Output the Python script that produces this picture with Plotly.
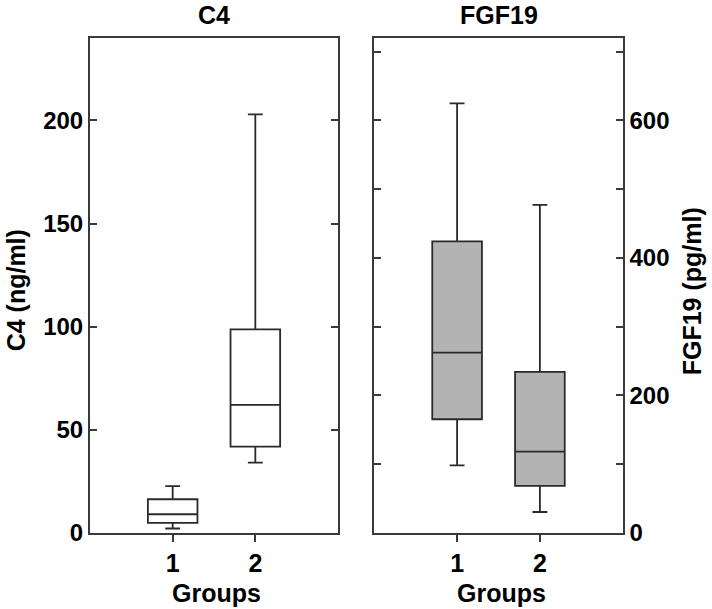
import plotly.graph_objects as go

# The captured picture comes out vertically squeezed by about 0.978 relative to the page,
# so the figure is laid out on a slightly taller page and positions are mapped accordingly.
SY = 0.978
W = 712
H = round(609 / SY)

# ---- data ----
groups = [1, 2]
c4_lower = [2.0, 34.0]
c4_q1 = [4.7, 41.7]
c4_median = [8.9, 62.0]
c4_q3 = [16.2, 98.6]
c4_upper = [22.6, 203.0]

fgf_lower = [98.0, 30.0]
fgf_q1 = [165.0, 68.0]
fgf_median = [262.0, 118.0]
fgf_q3 = [424.0, 234.0]
fgf_upper = [625.0, 477.0]

c4_ticks = [0, 50, 100, 150, 200]
fgf_ticks = [0, 100, 200, 300, 400, 500, 600, 700]
fgf_ticktext = ["0", "", "200", "", "400", "", "600", ""]

FONT = "Liberation Sans, Arial, sans-serif"
LINE = "#3a3a3a"


def px_x(p):
    return p / W


def px_y(p):
    return (H - p / SY) / H


fig = go.Figure()

for i, g in enumerate(groups):
    fig.add_trace(go.Box(
        x=[g], q1=[c4_q1[i]], median=[c4_median[i]], q3=[c4_q3[i]],
        lowerfence=[c4_lower[i]], upperfence=[c4_upper[i]],
        width=0.6, whiskerwidth=0.3, boxpoints=False,
        fillcolor="white", line=dict(color="#2a2a2a", width=1.8),
        xaxis="x", yaxis="y", showlegend=False, hoverinfo="skip"))
    fig.add_trace(go.Box(
        x=[g], q1=[fgf_q1[i]], median=[fgf_median[i]], q3=[fgf_q3[i]],
        lowerfence=[fgf_lower[i]], upperfence=[fgf_upper[i]],
        width=0.6, whiskerwidth=0.3, boxpoints=False,
        fillcolor="#b3b3b3", line=dict(color="#2a2a2a", width=1.8),
        xaxis="x2", yaxis="y2", showlegend=False, hoverinfo="skip"))

ydom = [px_y(532), px_y(38)]
common_x = dict(range=[0, 3], tickvals=groups, ticktext=[str(g) for g in groups],
                ticks="outside", ticklen=7, tickwidth=2, tickcolor=LINE,
                showline=True, linecolor=LINE, linewidth=2, mirror=True,
                showgrid=False, zeroline=False,
                tickfont=dict(family=FONT, size=25, color="black", weight="bold"))

fig.update_layout(
    width=W, height=H,
    margin=dict(l=0, r=0, t=0, b=0),
    paper_bgcolor="white", plot_bgcolor="white",
    font=dict(family=FONT, color="black"),
    showlegend=False,
    xaxis=dict(domain=[px_x(90), px_x(338)], anchor="y", **common_x),
    xaxis2=dict(domain=[px_x(374.3), px_x(622.7)], anchor="y2", **common_x),
    yaxis=dict(domain=ydom, anchor="x", range=[0, 240], tickvals=c4_ticks,
               ticks="inside", ticklen=7, tickwidth=2, tickcolor=LINE,
               showline=True, linecolor=LINE, linewidth=2, mirror="ticks",
               showgrid=False, zeroline=False,
               tickfont=dict(family=FONT, size=24, color="black", weight="bold")),
    yaxis2=dict(domain=ydom, anchor="x2", side="right", range=[0, 720],
                tickvals=fgf_ticks, ticktext=fgf_ticktext,
                ticks="inside", ticklen=7, tickwidth=2, tickcolor=LINE,
                showline=True, linecolor=LINE, linewidth=2, mirror="ticks",
                showgrid=False, zeroline=False,
                tickfont=dict(family=FONT, size=24, color="black", weight="bold")),
)

ann_font = dict(family=FONT, size=25, color="black", weight="bold")
annotations = [
    dict(text="C4", x=px_x(214), y=px_y(15)),
    dict(text="FGF19", x=px_x(499), y=px_y(15)),
    dict(text="Groups", x=px_x(216.5), y=px_y(592)),
    dict(text="Groups", x=px_x(501.5), y=px_y(592)),
    dict(text="C4 (ng/ml)", x=px_x(16), y=px_y(290), textangle=-90),
    dict(text="FGF19 (pg/ml)", x=px_x(692), y=px_y(291), textangle=-90),
]
for a in annotations:
    fig.add_annotation(xref="paper", yref="paper", xanchor="center", yanchor="middle",
                       showarrow=False, font=ann_font, **a)

# remove the default 8px page margin so the figure starts at the window's corner
fig.write_html(
    "out.html",
    config={"displayModeBar": False},
    post_script="document.body.style.margin='0';document.body.style.overflow='hidden';",
)
